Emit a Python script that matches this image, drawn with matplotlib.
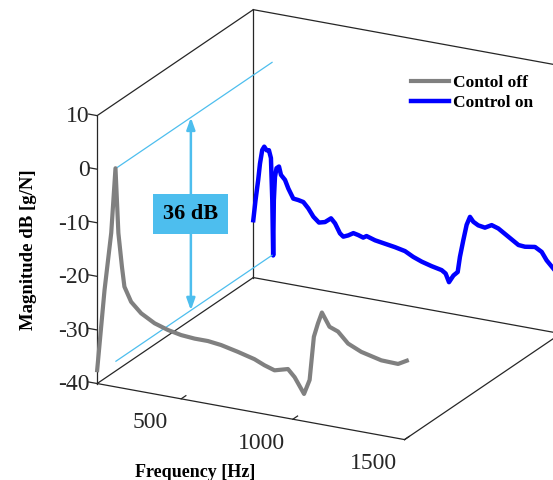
import matplotlib
matplotlib.use("Agg")
import matplotlib.pyplot as plt
import numpy as np
from mpl_toolkits.mplot3d import proj3d

plt.rcParams["font.family"] = ["Liberation Serif", "DejaVu Serif"]
plt.rcParams["axes.unicode_minus"] = False

# frequency response without control (front trace)
freq_off = [124, 157, 187, 206, 219, 235, 246, 276, 321, 381, 441, 500, 560,
            620, 679, 754, 828, 873, 918, 978, 1008, 1050, 1075, 1094, 1112,
            1130, 1164, 1202, 1247, 1306, 1396, 1471, 1510]
mag_off = [-37.5, -22.3, -11.4, 0.8, -11.2, -17.4, -21.0, -23.6, -25.4, -26.8,
           -27.6, -28.1, -28.3, -28.3, -28.6, -29.3, -30.1, -30.9, -31.5, -30.8,
           -32.1, -34.9, -32.1, -23.9, -21.3, -19.1, -21.5, -22.1, -24.0, -25.1,
           -26.0, -26.1, -25.2]

# frequency response with control (back trace)
freq_on = [124, 134, 146, 154, 164, 173, 184, 194, 203, 209, 213, 216, 221,
           228, 239, 248, 266, 281, 303, 325, 348, 370, 393, 418, 445, 472,
           490, 512, 527, 549, 572, 594, 616, 631, 669, 713, 758, 803, 840,
           878, 922, 967, 985, 1000, 1020, 1039, 1049, 1064, 1079, 1094, 1109,
           1131, 1161, 1191, 1221, 1266, 1311, 1340, 1385, 1415, 1437, 1467]
mag_on = [-29.3, -25.5, -21.6, -18.5, -15.9, -15.2, -15.8, -15.7, -17.1, -24.9,
          -35.2, -24.9, -20.5, -18.8, -18.4, -19.9, -20.7, -22.2, -23.9, -24.0,
          -24.2, -25.2, -26.6, -27.5, -27.2, -26.3, -27.1, -28.8, -29.3, -28.9,
          -28.3, -28.5, -28.8, -28.4, -28.9, -29.2, -29.5, -29.9, -30.7, -31.3,
          -31.8, -32.2, -32.7, -34.2, -32.8, -32.0, -29.1, -25.9, -22.9, -21.3,
          -22.1, -22.6, -22.8, -22.1, -22.5, -23.7, -24.9, -25.0, -24.7, -25.4,
          -26.8, -28.1]

PEAK_HZ = 208        # resonance frequency
PEAK_OFF = 0.8       # uncontrolled peak level, dB
DROP = 36            # attenuation at the resonance, dB
ARROW_DEPTH = 0.48

X0, X1 = 124, 1500
Z0, Z1 = -40, 10
X_TICKS = [500, 1000, 1500]
Z_TICKS = [-40, -30, -20, -10, 0, 10]

GREY = "#808080"
BLUE = "#0000FF"
CYAN = "#4DBEEE"
EDGE = "0.15"

fig = plt.figure(figsize=(5.53, 4.8), dpi=100)
ax = fig.add_axes([0.0227, -0.0526, 1.1175, 1.1385], projection="3d",
                  proj_type="ortho", computed_zorder=False)
ax.view_init(elev=20.6, azim=-62.6)
ax.set_box_aspect((346, 339, 286))
ax.set_xlim(X0, X1)
ax.set_ylim(0, 1)
ax.set_zlim(Z0, Z1)
ax.set_xticks([])
ax.set_yticks([])
ax.set_zticks([])
ax.set_axis_off()

# outline of the floor, back wall and left wall
box_edges = [
    ((X0, X1), (0, 0), (Z0, Z0)), ((X1, X1), (0, 1), (Z0, Z0)),
    ((X1, X0), (1, 1), (Z0, Z0)), ((X0, X0), (1, 0), (Z0, Z0)),
    ((X0, X0), (1, 1), (Z0, Z1)), ((X0, X1), (1, 1), (Z1, Z1)),
    ((X1, X1), (1, 1), (Z1, Z0)), ((X0, X0), (0, 0), (Z0, Z1)),
    ((X0, X0), (0, 1), (Z1, Z1)),
]
for xs, ys, zs in box_edges:
    ax.plot(xs, ys, zs, color=EDGE, lw=0.9, zorder=1)

# tick marks: magnitude on the front-left edge, frequency along the front floor
for z in Z_TICKS:
    ax.plot([X0, X0 - 38], [0, 0], [z, z], color=EDGE, lw=0.9, zorder=1)
for f in X_TICKS:
    ax.plot([f, f], [0, 0.03], [Z0, Z0], color=EDGE, lw=0.9, zorder=1)

ax.plot(freq_on, np.ones(len(freq_on)), mag_on, color=BLUE, lw=3.2,
        zorder=2, label="Control on")
ax.plot(freq_off, np.zeros(len(freq_off)), mag_off, color=GREY, lw=3.0,
        zorder=3, label="Contol off")

# guide lines carrying the peak level and the controlled level to the back
for level in (PEAK_OFF, PEAK_OFF - DROP):
    ax.plot([PEAK_HZ, PEAK_HZ], [0, 1], [level, level], color=CYAN, lw=0.9,
            zorder=2.5)

fig.text(0.052, 0.48, "Magnitude dB [g/N]", rotation=90, ha="center",
         va="center", fontsize=13.5, fontweight="bold")
fig.text(0.353, 0.016, "Frequency [Hz]", ha="center", va="center",
         fontsize=13, fontweight="bold")

handles, labels = ax.get_legend_handles_labels()
fig.legend(handles[::-1], labels[::-1], loc="upper left",
           bbox_to_anchor=(0.743, 0.844), frameon=False, borderpad=0,
           borderaxespad=0, handlelength=2.2, handletextpad=0.2,
           labelspacing=0.2, prop={"size": 12.5, "weight": "bold"})

# texts and the arrow are placed at projected 3D positions
fig.canvas.draw()
M = ax.get_proj()


def to2d(x, y, z):
    px, py, _ = proj3d.proj_transform(x, y, z, M)
    return px, py


for z in Z_TICKS:
    ax.text2D(*to2d(X0 - 34, 0, z - 0.5), f"{z}", transform=ax.transData,
              ha="right", va="center", fontsize=17, color=EDGE)
for f in X_TICKS:
    ax.text2D(*to2d(f, -0.2, Z0 - 0.5), f"{f}", transform=ax.transData,
              ha="center", va="center", fontsize=17, color=EDGE)

ax.annotate("", xy=to2d(PEAK_HZ, ARROW_DEPTH, PEAK_OFF),
            xytext=to2d(PEAK_HZ, ARROW_DEPTH, PEAK_OFF - DROP),
            arrowprops=dict(arrowstyle="<|-|>,head_length=0.7,head_width=0.25",
                            color=CYAN, lw=1.8, shrinkA=0, shrinkB=0),
            zorder=4)
ax.text2D(*to2d(PEAK_HZ, ARROW_DEPTH, PEAK_OFF - DROP / 2), f"{DROP} dB",
          transform=ax.transData, ha="center", va="center", fontsize=16,
          fontweight="bold", zorder=5,
          bbox=dict(boxstyle="square,pad=0.45", fc=CYAN, ec="none"))

fig.savefig("out.png", dpi=100)
